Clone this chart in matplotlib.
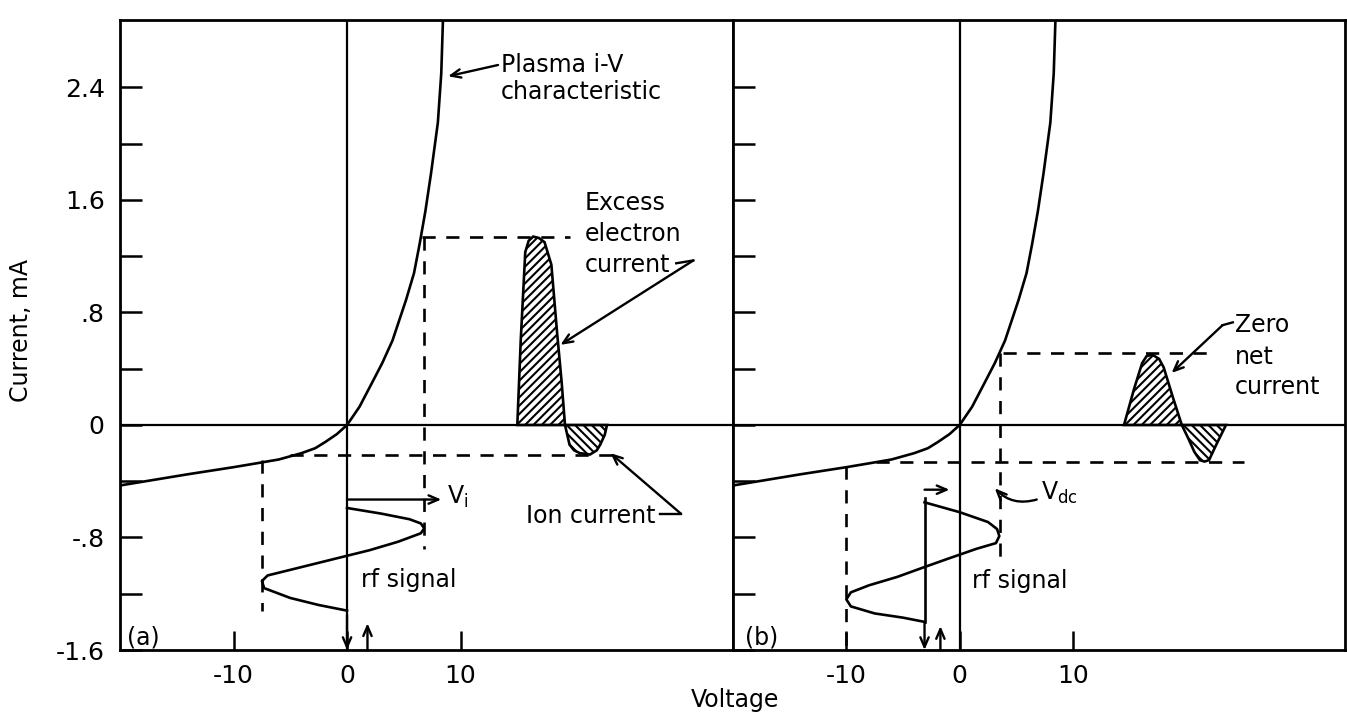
import matplotlib.pyplot as plt
from matplotlib.ticker import FixedLocator, FixedFormatter

plt.rcParams['font.family'] = ['DejaVu Sans']
plt.rcParams['mathtext.default'] = 'regular'
plt.rcParams['hatch.linewidth'] = 1.5

# plasma i-V characteristic (volts, mA)
iv_volts = [-20, -14, -10, -7.8, -6.0, -4.0, -2.8, -1.9, -0.9, 0, 1.1, 2.2, 3.1, 4.0,
            5.2, 5.9, 6.4, 6.9, 7.4, 8.0, 8.3, 8.45]
iv_current = [-0.43, -0.35, -0.30, -0.27, -0.245, -0.20, -0.165, -0.12, -0.065, 0, 0.13,
              0.30, 0.44, 0.60, 0.89, 1.08, 1.29, 1.52, 1.79, 2.15, 2.50, 2.88]

# rf signal drawn sideways (volts vs. position along the current axis)
rf_a_volts = [0, 3, 5.5, 6.5, 6.8, 6.5, 4.5, 2, 0, -2.5, -5, -7.0, -7.5, -7.3, -5, -2.5, 0]
rf_a_level = [-0.59, -0.63, -0.67, -0.70, -0.735, -0.77, -0.83, -0.89, -0.93, -0.98, -1.03,
              -1.07, -1.11, -1.16, -1.23, -1.28, -1.32]
rf_b_volts = [-3.1, 0, 2.5, 3.3, 3.5, 3.2, 1.5, -1, -3.1, -5.5, -8, -9.6, -10, -9.6, -7.5, -5, -3.1]
rf_b_level = [-0.55, -0.62, -0.69, -0.74, -0.79, -0.84, -0.88, -0.95, -1.01, -1.08, -1.14,
              -1.19, -1.24, -1.29, -1.34, -1.37, -1.40]

# current pulses (hatched)
elec_a_volts = [15.0, 15.3, 15.7, 16.0, 16.4, 16.9, 17.4, 18.0, 18.5, 18.9, 19.2]
elec_a_current = [0.0, 0.6, 1.23, 1.31, 1.34, 1.33, 1.30, 1.14, 0.66, 0.31, 0.0]
ion_a_volts = [19.2, 19.6, 20.0, 20.5, 21.4, 22.0, 22.3, 22.7, 22.9]
ion_a_current = [0.0, -0.14, -0.18, -0.20, -0.21, -0.18, -0.14, -0.07, 0.0]

elec_b_volts = [14.5, 15.4, 16.1, 16.5, 17.0, 17.6, 18.0, 18.8, 19.6]
elec_b_current = [0.0, 0.26, 0.44, 0.49, 0.50, 0.47, 0.41, 0.20, 0.0]
ion_b_volts = [19.6, 20.2, 20.7, 21.2, 21.6, 22.0, 22.7, 23.5]
ion_b_current = [0.0, -0.10, -0.19, -0.25, -0.26, -0.25, -0.13, 0.0]

# dashed guide lines: (x0, x1, level) and (volts, y0, y1)
dash_h_a = [(6.6, 19.6, 1.34), (-5.0, 24.0, -0.21)]
dash_v_a = [(6.8, 1.34, -0.88), (-7.5, -0.25, -1.32)]
dash_h_b = [(3.8, 22.5, 0.51), (-7.4, 25.1, -0.26)]
dash_v_b = [(3.6, 0.51, -0.97), (-10.0, -0.29, -1.6)]

y_ticks = [-1.6, -1.2, -0.8, -0.4, 0, 0.4, 0.8, 1.2, 1.6, 2.0, 2.4]
y_tick_labels = ['-1.6', '', '-.8', '', '0', '', '.8', '', '1.6', '', '2.4']
x_ticks = [-10, 0, 10]
x_tick_labels = ['-10', '0', '10']

FS = 17
LW = 1.9
arrow = dict(arrowstyle='->,head_length=0.7,head_width=0.3', lw=1.7, color='black',
             shrinkA=0, shrinkB=0)


def base_panel(ax, show_labels):
    ax.set_xlim(-20, 34)
    ax.set_ylim(-1.6, 2.88)
    for s in ax.spines.values():
        s.set_linewidth(2.0)
    ax.yaxis.set_major_locator(FixedLocator(y_ticks))
    ax.yaxis.set_major_formatter(FixedFormatter(y_tick_labels if show_labels else [''] * len(y_ticks)))
    ax.xaxis.set_major_locator(FixedLocator(x_ticks))
    ax.xaxis.set_major_formatter(FixedFormatter(x_tick_labels))
    ax.tick_params(axis='y', direction='in', length=16, width=1.8, pad=11, labelsize=18)
    ax.tick_params(axis='x', direction='in', length=14, width=1.8, pad=10, labelsize=18)
    ax.axhline(0, color='black', lw=1.6)
    ax.axvline(0, color='black', lw=1.6)
    ax.plot(iv_volts, iv_current, color='black', lw=LW, solid_joinstyle='round')


def dashes(ax, hs, vs):
    for x0, x1, y in hs:
        ax.plot([x0, x1], [y, y], color='black', lw=LW, dashes=(5, 4))
    for x, y0, y1 in vs:
        ax.plot([x, x], [y0, y1], color='black', lw=LW, dashes=(5, 4))


def pulses(ax, ev, ec, iv, ic):
    ax.fill(ev, ec, facecolor='white', edgecolor='black', hatch='////', lw=LW)
    ax.fill(iv, ic, facecolor='white', edgecolor='black', hatch='\\\\\\\\', lw=LW)


fig = plt.figure(figsize=(13.47, 7.16), dpi=100)
ax_a = fig.add_axes([120 / 1347, 1 - 650 / 716, 613 / 1347, 630 / 716])
ax_b = fig.add_axes([733 / 1347, 1 - 650 / 716, 612 / 1347, 630 / 716])

# ---- panel (a)
base_panel(ax_a, True)
dashes(ax_a, dash_h_a, dash_v_a)
pulses(ax_a, elec_a_volts, elec_a_current, ion_a_volts, ion_a_current)
ax_a.plot(rf_a_volts, rf_a_level, color='black', lw=LW, solid_joinstyle='round')
ax_a.annotate('', xy=(8.3, -0.53), xytext=(0, -0.53), arrowprops=arrow)
ax_a.text(8.8, -0.51, r'V$_{i}$', fontsize=FS, va='center', ha='left')
ax_a.annotate('', xy=(0, -1.6), xytext=(0, -1.35), arrowprops=arrow)
ax_a.annotate('', xy=(1.8, -1.41), xytext=(1.8, -1.6), arrowprops=arrow)
ax_a.text(1.2, -1.10, 'rf signal', fontsize=FS, va='center', ha='left')
ax_a.text(-19.4, -1.51, '(a)', fontsize=FS, va='center', ha='left')

ax_a.annotate('', xy=(8.9, 2.48), xytext=(13.3, 2.56), arrowprops=arrow)
ax_a.text(13.6, 2.56, 'Plasma i-V', fontsize=FS, va='center', ha='left')
ax_a.text(13.5, 2.37, 'characteristic', fontsize=FS, va='center', ha='left')

ax_a.text(20.9, 1.58, 'Excess', fontsize=FS, va='center', ha='left')
ax_a.text(20.9, 1.36, 'electron', fontsize=FS, va='center', ha='left')
ax_a.text(20.9, 1.14, 'current', fontsize=FS, va='center', ha='left')
ax_a.plot([29.0, 30.5], [1.15, 1.17], color='black', lw=1.7)
ax_a.annotate('', xy=(18.8, 0.57), xytext=(30.5, 1.17), arrowprops=arrow)

ax_a.text(15.8, -0.65, 'Ion current', fontsize=FS, va='center', ha='left')
ax_a.plot([27.6, 29.4], [-0.63, -0.63], color='black', lw=1.7)
ax_a.annotate('', xy=(23.2, -0.20), xytext=(29.4, -0.63), arrowprops=arrow)

# ---- panel (b)
base_panel(ax_b, False)
dashes(ax_b, dash_h_b, dash_v_b)
pulses(ax_b, elec_b_volts, elec_b_current, ion_b_volts, ion_b_current)
ax_b.plot(rf_b_volts, rf_b_level, color='black', lw=LW, solid_joinstyle='round')
ax_b.plot([-3.1, -3.1], [-0.52, -1.4], color='black', lw=LW)
ax_b.annotate('', xy=(-3.1, -1.6), xytext=(-3.1, -1.4), arrowprops=arrow)
ax_b.annotate('', xy=(-1.7, -1.43), xytext=(-1.7, -1.6), arrowprops=arrow)
ax_b.annotate('', xy=(-0.9, -0.46), xytext=(-3.1, -0.46), arrowprops=arrow)
ax_b.annotate('', xy=(3.1, -0.45), xytext=(6.8, -0.53),
              arrowprops=dict(arrow, connectionstyle='arc3,rad=-0.3'))
ax_b.text(7.2, -0.48, r'V$_{dc}$', fontsize=FS, va='center', ha='left')
ax_b.text(1.1, -1.11, 'rf signal', fontsize=FS, va='center', ha='left')
ax_b.text(-18.9, -1.51, '(b)', fontsize=FS, va='center', ha='left')

ax_b.text(24.3, 0.71, 'Zero', fontsize=FS, va='center', ha='left')
ax_b.text(24.3, 0.48, 'net', fontsize=FS, va='center', ha='left')
ax_b.text(24.3, 0.27, 'current', fontsize=FS, va='center', ha='left')
ax_b.plot([23.2, 24.1], [0.71, 0.73], color='black', lw=1.7)
ax_b.annotate('', xy=(18.7, 0.37), xytext=(23.2, 0.71), arrowprops=arrow)

fig.text(21 / 1347, 1 - 330 / 716, 'Current, mA', rotation=90, fontsize=FS,
         ha='center', va='center')
fig.text(735 / 1347, 1 - 700 / 716, 'Voltage', fontsize=FS, ha='center', va='center')

fig.savefig('out.png', dpi=100)
